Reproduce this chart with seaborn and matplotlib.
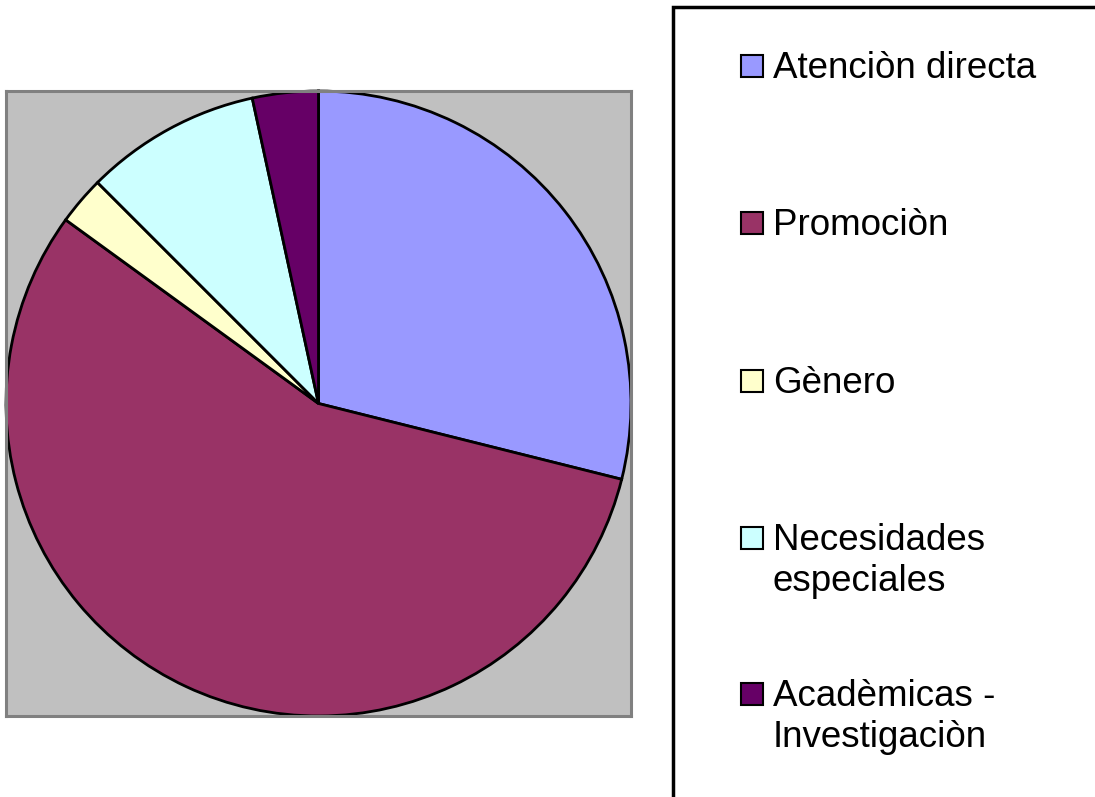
import matplotlib
matplotlib.use("Agg")
import matplotlib.pyplot as plt
from matplotlib.patches import Rectangle
import seaborn as sns

# Data (share of activities)
labels = ['Atenciòn directa', 'Promociòn', 'Gènero',
          'Necesidades\nespeciales', 'Acadèmicas -\nInvestigaciòn']
shares = [28.9, 56.1, 2.5, 9.1, 3.4]
colors = ['#9999FF', '#993366', '#FFFFCC', '#CCFFFF', '#660066']

sns.set_style('white')
plt.rcParams['font.family'] = ['Liberation Sans', 'DejaVu Sans']
palette = sns.color_palette(colors)

W, H = 1095, 797
fig = plt.figure(figsize=(W / 100, H / 100), dpi=100)
fig.patch.set_facecolor('white')

# Plot area (gray square)
ax = fig.add_axes([6 / W, (H - 716) / H, 625 / W, 625 / H])
ax.pie(shares, colors=palette, startangle=90, counterclock=False,
       radius=1.0, center=(0, 0),
       wedgeprops=dict(edgecolor='black', linewidth=2))
ax.set_frame_on(True)
ax.set_facecolor('#C0C0C0')
ax.set_xlim(-1.0, 1.0)
ax.set_ylim(-1.0, 1.0)
ax.set_aspect('auto')
ax.set_xticks([])
ax.set_yticks([])
for s in ax.spines.values():
    s.set_visible(True)
    s.set_color('#808080')
    s.set_linewidth(2.2)

# Legend frame (runs off the right and bottom edges)
fig.patches.append(Rectangle((673 / W, -0.2), 0.6, 1.2 - 7 / H,
                             transform=fig.transFigure, fill=False,
                             edgecolor='black', linewidth=2.5))

# Legend entries, placed by baseline (pixels from top)
baselines = [78, 235, 393, 550, 706]
pitch = 41
for lab, col, base in zip(labels, colors, baselines):
    fig.patches.append(Rectangle((741 / W, 1 - (base - 1) / H), 22 / W, 22 / H,
                                 transform=fig.transFigure, facecolor=col,
                                 edgecolor='black', linewidth=1.5))
    for j, line in enumerate(lab.split('\n')):
        fig.text(773 / W, 1 - (base + j * pitch) / H, line,
                 fontsize=26.5, color='black', ha='left', va='baseline')

fig.savefig('out.png', dpi=100)
